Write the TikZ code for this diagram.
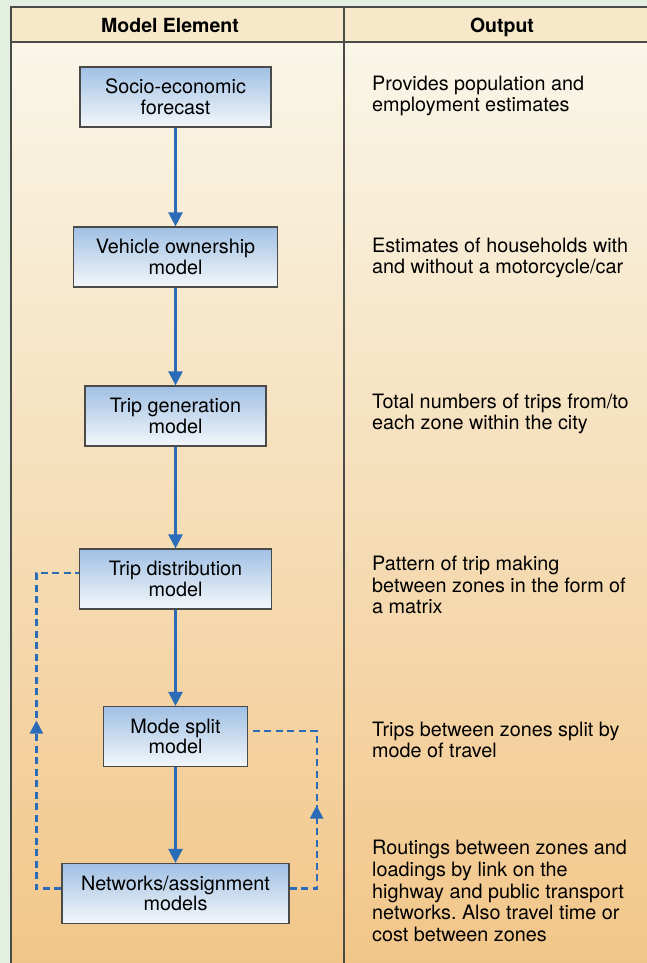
\documentclass[tikz,border=0pt]{standalone}
\usepackage{fontspec}
\setmainfont{TeX Gyre Heros}
\usetikzlibrary{arrows.meta,decorations.markings,calc}
\definecolor{bggreen}{HTML}{E3F0E1}
\definecolor{headfill}{HTML}{F8E8CA}
\definecolor{bodytop}{HTML}{F9F6E8}
\definecolor{bodymid}{HTML}{F6E0B2}
\definecolor{bodybot}{HTML}{F2C689}
\definecolor{boxtop}{HTML}{A0C0E4}
\definecolor{boxbot}{HTML}{F4F7FA}
\definecolor{flowblue}{HTML}{2B6CB8}
\definecolor{rulegray}{HTML}{4A4A48}
\tikzset{
  modelbox/.style={draw=rulegray, line width=1.2pt, top color=boxtop, bottom color=boxbot,
    minimum height=60pt, align=center, inner sep=0pt, font=\fontsize{19.8}{20.5}\selectfont},
  outtext/.style={anchor=west, align=left, inner sep=0pt, font=\fontsize{19.8}{21.7}\selectfont},
  headtext/.style={inner sep=0pt, anchor=base, font=\bfseries\fontsize{19.5}{20}\selectfont},
  tablerule/.style={draw=rulegray, line width=1.6pt},
  flowarrow/.style={draw=flowblue, line width=2.4pt, -{Triangle[width=14pt,length=14pt]}},
  feedback/.style={draw=flowblue, line width=2.2pt, dash pattern=on 7pt off 4.5pt}
}
\frenchspacing
\begin{document}
\begin{tikzpicture}[x=1pt,y=-1pt]
\useasboundingbox (0,0) rectangle (647,963);
\fill[bggreen] (0,0) rectangle (647,963);
\fill[headfill] (11,7) rectangle (647,42);
\shade[top color=bodytop, middle color=bodymid, bottom color=bodybot] (11,42) rectangle (647,963);
\draw[tablerule] (11,963) -- (11,7) -- (647,7);
\draw[tablerule] (11,42) -- (647,42);
\draw[tablerule] (344,7) -- (344,963);

\node[headtext] (h1) at (170,33) {Model Element};
\node[headtext] (h2) at (502,33) {Output};

\node[modelbox, minimum width=191pt] (socio) at (175.5,97) {Socio-economic\\forecast};
\node[modelbox, minimum width=204pt] (veh) at (175.5,257) {Vehicle ownership\\model};
\node[modelbox, minimum width=181pt] (gen) at (175.5,416) {Trip generation\\model};
\node[modelbox, minimum width=192pt] (dist) at (175.5,579) {Trip distribution\\model};
\node[modelbox, minimum width=144pt] (mode) at (175.5,736.5) {Mode split\\model};
\node[modelbox, minimum width=227pt] (net) at (175.5,893.5) {Networks/assignment\\models};

\draw[flowarrow] (socio) -- (veh);
\draw[flowarrow] (veh) -- (gen);
\draw[flowarrow] (gen) -- (dist);
\draw[flowarrow] (dist) -- (mode);
\draw[flowarrow] (mode) -- (net);

\draw[feedback, postaction={decorate},
  decoration={markings, mark=at position 193pt with {\arrow[solid]{Triangle[width=13pt,length=13pt]}}}]
  ([yshift=5pt]net.west) -- ++(-25,0) |- ([yshift=6pt]dist.west);
\draw[feedback, postaction={decorate},
  decoration={markings, mark=at position 110pt with {\arrow[solid]{Triangle[width=13pt,length=13pt]}}}]
  ([yshift=5pt]net.east) -- ++(27,0) |- ([yshift=5.5pt]mode.east);

\node[outtext] (o1) at (372,96) {Provides population and\\employment estimates};
\node[outtext] (o2) at (372,258) {Estimates of households with\\and without a motorcycle/car};
\node[outtext] (o3) at (372,414) {Total numbers of trips from/to\\each zone within the city};
\node[outtext] (o4) at (372,585) {Pattern of trip making\\between zones in the form of\\a matrix};
\node[outtext] (o5) at (372,740) {Trips between zones split by\\mode of travel};
\node[outtext] (o6) at (372,891) {Routings between zones and\\loadings by link on the\\highway and public transport\\networks. Also travel time or\\cost between zones};
\end{tikzpicture}
\end{document}
